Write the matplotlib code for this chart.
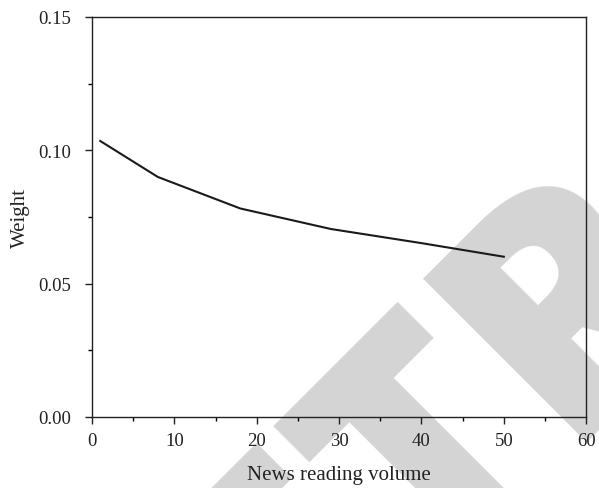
import matplotlib
matplotlib.use('Agg')
import matplotlib.pyplot as plt
from matplotlib.ticker import MultipleLocator

volume = [1, 8, 18, 29, 40, 50]
weight = [0.1035, 0.0900, 0.0782, 0.0705, 0.0652, 0.0601]

plt.rcParams['font.family'] = 'Liberation Serif'

fig = plt.figure(figsize=(5.99, 4.89), dpi=100)
ax = fig.add_axes([0.1536, 0.1452, 0.825, 0.818])
ax.patch.set_alpha(0)

# watermark behind the plot
wm = dict(rotation=45, rotation_mode='anchor', va='baseline', fontsize=234,
          fontweight=800, color='#d4d4d4', family='Open Sans', zorder=-5)
fig.text(0.9374, 0.0971, 'RET', ha='right', **wm)
fig.text(0.9374, 0.0971, 'RACTED', ha='left', **wm)

ax.plot(volume, weight, color='#1a1a1a', lw=1.5)

ax.set_xlim(0, 60)
ax.set_ylim(0, 0.15)
ax.xaxis.set_major_locator(MultipleLocator(10))
ax.xaxis.set_minor_locator(MultipleLocator(5))
ax.yaxis.set_major_locator(MultipleLocator(0.05))
ax.yaxis.set_minor_locator(MultipleLocator(0.025))
ax.yaxis.set_major_formatter(plt.FormatStrFormatter('%.2f'))
ax.tick_params(which='major', direction='out', length=5, width=1, labelsize=13.5,
               colors='#222222')
ax.tick_params(axis='x', which='major', pad=6)
ax.tick_params(axis='y', which='major', pad=10)
ax.tick_params(which='minor', direction='out', length=3, width=1)
for s in ax.spines.values():
    s.set_linewidth(1)
    s.set_color('#222222')

ax.set_xlabel('News reading volume', fontsize=15, color='#222222', labelpad=11)
ax.set_ylabel('Weight', fontsize=15, color='#222222', labelpad=6)

fig.savefig('out.png', dpi=100)
